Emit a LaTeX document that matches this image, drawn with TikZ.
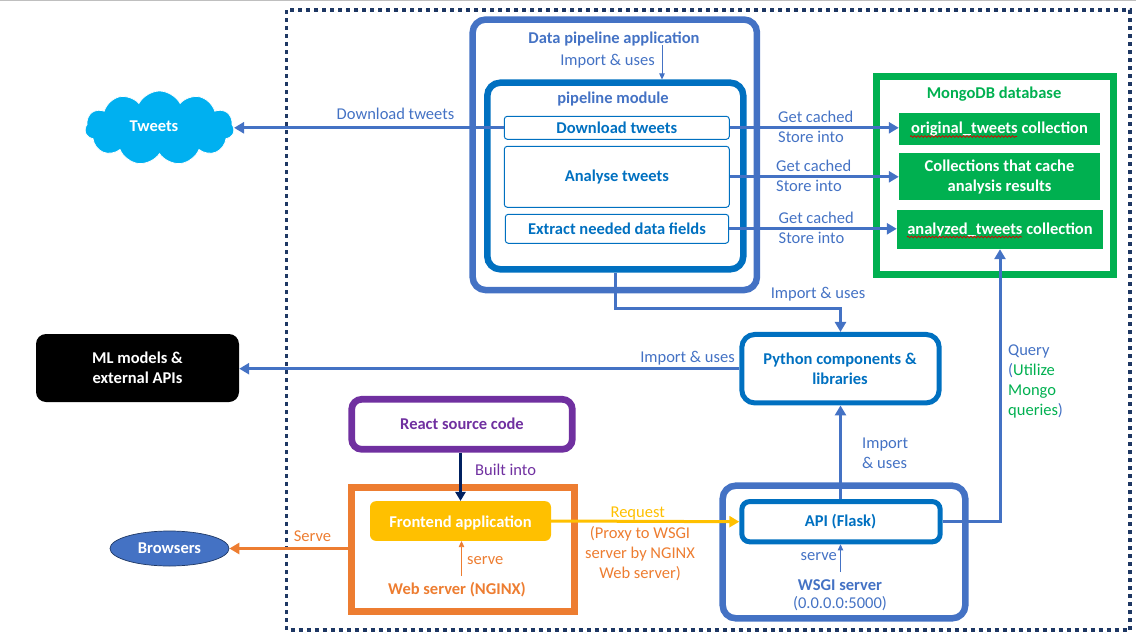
\documentclass[tikz,border=0pt]{standalone}
\usepackage{fontspec}
\setmainfont{Carlito}
\usepackage{xcolor}
\usetikzlibrary{shapes,positioning,calc,decorations.pathmorphing,arrows.meta}
\definecolor{appblue}{HTML}{4472C4}
\definecolor{modblue}{HTML}{0070C0}
\definecolor{dbgreen}{HTML}{00B050}
\definecolor{webpurple}{HTML}{7030A0}
\definecolor{weborange}{HTML}{ED7D31}
\definecolor{reqyellow}{HTML}{FFC000}
\definecolor{cloudblue}{HTML}{00B0F0}
\definecolor{framenavy}{HTML}{1F3864}
\definecolor{builtnavy}{HTML}{002060}
\tikzset{
  bigbox/.style={draw, rectangle, rounded corners=13pt, inner sep=0pt, line width=6.5pt},
  stepbox/.style={draw=modblue, rectangle, rounded corners=3pt, inner sep=0pt, line width=1pt, text=modblue, font=\bfseries\fontsize{16.5}{20}\selectfont},
  dbbox/.style={fill=dbgreen, rectangle, inner sep=0pt, text=white, align=center, font=\bfseries\fontsize{16.5}{20}\selectfont},
  txt/.style={inner sep=0pt, align=center, font=\fontsize{16.5}{20}\selectfont},
  boldtxt/.style={inner sep=0pt, align=center, font=\bfseries\fontsize{16.5}{20}\selectfont},
  conn/.style={line width=3pt, -{Triangle[width=11pt,length=10pt]}},
  thinconn/.style={line width=0.8pt, -{Triangle[width=5.5pt,length=6pt]}},
  squiggle/.style={red!85!black, line width=0.7pt, decorate, decoration={snake,amplitude=0.9pt,segment length=3.5pt}}
}
\begin{document}
\begin{tikzpicture}[x=1pt,y=-1pt]
    \useasboundingbox (0,0) rectangle (1136,640);
    \draw[black!25, line width=1pt] (0,0.7) -- (1136,0.7);

    % Outer frame
    \draw[framenavy, line width=3.6pt, dash pattern=on 4pt off 4pt] (286.5,10) rectangle (1130,630);

    % Data pipeline application
    \node[bigbox, draw=appblue, minimum width=284.3pt, minimum height=270.5pt] (dataapp) at (614.8,154.8) {};
    \node[boldtxt, text=appblue] (dataapplbl) at (614,39) {Data pipeline application};
    \node[txt, text=appblue] (importlbl) at (607.5,61) {Import \& uses};
    \coordinate (importtop) at (662,45);

    % Pipeline module
    \node[bigbox, draw=modblue, minimum width=256pt, minimum height=186.6pt] (pipeline) at (615.3,176) {};
    \node[boldtxt, text=appblue] (pipelinelbl) at (613,99) {pipeline module};
    \node[stepbox, minimum width=225pt, minimum height=23pt] (download) at (616.8,127.8) {Download tweets};
    \node[stepbox, minimum width=225pt, minimum height=61pt] (analyse) at (616.8,176.8) {Analyse tweets};
    \node[stepbox, minimum width=223.4pt, minimum height=29pt] (extract) at (617,228.8) {Extract needed data fields};
    \draw[appblue, thinconn] (importtop) -- (importtop |- pipeline.north);

    % MongoDB database
    \node[bigbox, draw=dbgreen, sharp corners, line width=6.7pt, minimum width=236.6pt, minimum height=197.6pt] (mongo) at (995,175.5) {};
    \node[boldtxt, text=dbgreen] (mongolbl) at (994,94) {MongoDB database};
    \node[dbbox, minimum width=201pt, minimum height=32pt] (original) at (999.5,129) {original\_tweets collection};
    \node[dbbox, minimum width=201pt, minimum height=47pt] (collections) at (999.5,176.5) {Collections that cache\\analysis results};
    \node[dbbox, minimum width=206pt, minimum height=39pt] (analyzed) at (1000,229.5) {analyzed\_tweets collection};
    \draw[squiggle] (910,136.5) -- (1017,136.5);
    \draw[squiggle] (907,237) -- (1022,237);

    % Cache connections
    \draw[appblue, conn] (download.east) -- (download.east -| original.west);
    \draw[appblue, conn] (analyse.east) -- (analyse.east -| collections.west);
    \draw[appblue, conn] (extract.east) -- (extract.east -| analyzed.west);
    \node[txt, text=appblue, anchor=west] (get1) at (778,116.7) {Get cached};
    \node[txt, text=appblue, anchor=west] (store1) at (778,137) {Store into};
    \node[txt, text=appblue, anchor=west] (get2) at (776,166) {Get cached};
    \node[txt, text=appblue, anchor=west] (store2) at (776,186) {Store into};
    \node[txt, text=appblue, anchor=west] (get3) at (778.5,217.6) {Get cached};
    \node[txt, text=appblue, anchor=west] (store3) at (778.5,238) {Store into};

    % Tweets
    \node[cloud, cloud puffs=11, cloud puff arc=125, aspect=2, fill=cloudblue, draw=white, line width=0.7pt, inner sep=0pt, minimum width=149pt, minimum height=74pt] (tweets) at (159.5,128) {};
    \node[boldtxt, text=white] (tweetslbl) at (154,126) {Tweets};
    \draw[appblue, conn] (download.west) -- (download.west -| tweets.east);
    \node[txt, text=appblue] (downloadlbl) at (395.5,114) {Download tweets};

    % Python components
    \node[bigbox, draw=modblue, line width=5pt, minimum width=197.4pt, minimum height=68.5pt] (python) at (840.5,368.7) {};
    \node[boldtxt, text=modblue] (pythonlbl) at (840,368.5) {Python components \&\\libraries};
    \draw[appblue, conn] (pipeline.south) -- ++(0,36) -| (python.north);
    \node[txt, text=appblue] (importlbl2) at (818,294) {Import \& uses};

    % ML models
    \node[fill=black, rounded corners=10pt, inner sep=0pt, text=white, align=center, font=\bfseries\fontsize{16.5}{20}\selectfont, minimum width=203pt, minimum height=68pt] (models) at (137.5,368) {ML models \&\\external APIs};
    \draw[appblue, conn] (python.west) -- (python.west -| models.east);
    \node[txt, text=appblue] (importlbl3) at (687.5,358) {Import \& uses};

    % React source code
    \node[bigbox, draw=webpurple, rounded corners=10pt, line width=6.7pt, minimum width=220.6pt, minimum height=50pt] (react) at (462,424.3) {};
    \node[boldtxt, text=webpurple] (reactlbl) at (462,424) {React source code};

    % Web server
    \node[bigbox, draw=weborange, sharp corners, line width=7pt, minimum width=223pt, minimum height=124pt] (webserver) at (463,549.5) {};
    \node[fill=reqyellow, rounded corners=6pt, inner sep=0pt, text=white, font=\bfseries\fontsize{16.5}{20}\selectfont, minimum width=181pt, minimum height=39.7pt] (frontend) at (460.5,521) {\rule{0pt}{16pt}Frontend application};
    \node[boldtxt, text=weborange] (weblbl) at (457,589.5) {Web server (NGINX)};
    \coordinate (servefoot) at (461.5,576);
    \draw[weborange, thinconn] (servefoot) -- (servefoot |- frontend.south);
    \node[txt, text=weborange, anchor=west] (servelbl) at (467,561) {serve};
    \draw[builtnavy, line width=3pt, -{Triangle[width=10pt,length=9pt]}] (react.south -| frontend.north) -- (frontend.north);
    \node[txt, text=webpurple, anchor=west] (builtlbl) at (475,469.6) {Built into};

    % Browsers
    \node[ellipse, fill=appblue, draw=framenavy, line width=0.7pt, inner sep=0pt, text=white, font=\bfseries\fontsize{16.5}{20}\selectfont, minimum width=119pt, minimum height=35pt] (browsers) at (169.5,548.5) {Browsers};
    \draw[weborange, conn] (webserver.west |- browsers.east) -- (browsers.east);
    \node[txt, text=weborange] (servelbl2) at (312.5,536) {Serve};

    % WSGI server
    \node[bigbox, draw=appblue, minimum width=242.6pt, minimum height=132.6pt] (wsgi) at (844,552) {};
    \node[bigbox, draw=modblue, rounded corners=8pt, line width=5pt, minimum width=198.4pt, minimum height=40.3pt] (api) at (841,521.7) {};
    \node[boldtxt, text=modblue] (apilbl) at (840.5,521.5) {API (Flask)};
    \node[boldtxt, text=appblue] (wsgilbl) at (840,585) {WSGI server};
    \node[txt, text=appblue] (wsgiaddr) at (840,604) {(0.0.0.0:5000)};
    \coordinate (apifoot) at (840.5,572);
    \draw[appblue, thinconn] (apifoot) -- (apifoot |- api.south);
    \node[txt, text=appblue, anchor=east] (servelbl3) at (837,557) {serve};

    % Requests and queries
    \draw[reqyellow, conn] (frontend.east) -- (api.west);
    \node[txt, text=reqyellow] (requestlbl) at (637.7,514) {Request};
    \node[txt, text=weborange] (proxylbl) at (640,554) {(Proxy to WSGI\\server by NGINX\\Web server)};
    \draw[appblue, conn] (api.north -| python.south) -- (python.south);
    \node[txt, text=appblue, align=left, anchor=west] (importlbl4) at (862,453) {Import\\\& uses};
    \draw[appblue, conn] (api.east) -| (analyzed.south);
    \node[txt, align=left, anchor=north west] (querylbl) at (1008,345) {\textcolor{appblue}{Query}\\\textcolor{appblue}{(}\textcolor{dbgreen}{Utilize}\\\textcolor{dbgreen}{Mongo}\\\textcolor{dbgreen}{queries}\textcolor{appblue}{)}};
\end{tikzpicture}
\end{document}
